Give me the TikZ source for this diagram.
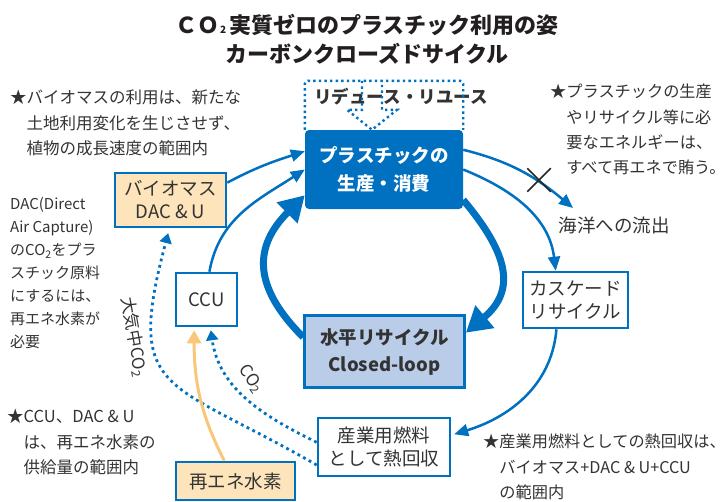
\documentclass[tikz,border=0pt]{standalone}
\usepackage{fontspec}
\setmainfont{Noto Sans CJK JP}
\usepackage{xcolor}
\usetikzlibrary{arrows.meta,shapes.misc}

\definecolor{mainblue}{HTML}{0070C0}
\definecolor{paleblue}{HTML}{B9CDE9}
\definecolor{paleorange}{HTML}{FDE4BA}
\definecolor{hydroline}{HTML}{F9C77A}
\definecolor{inktext}{HTML}{333333}
\definecolor{titleink}{HTML}{231F20}

\tikzset{
    plainbox/.style={
        draw=mainblue,
        line width=2.6pt,
        fill=white,
        align=center,
        inner sep=0pt,
        text=inktext,
        font=\fontsize{18.5}{23}\selectfont
    },
    orangebox/.style={
        plainbox,
        fill=paleorange
    },
    prodbox/.style={
        fill=mainblue,
        rounded corners=4pt,
        align=center,
        inner sep=0pt,
        text=white,
        minimum width=158pt,
        minimum height=79pt,
        font=\bfseries\fontsize{18.5}{28}\selectfont
    },
    loopbox/.style={
        plainbox,
        fill=paleblue,
        minimum width=160pt,
        minimum height=72pt,
        font=\bfseries\fontsize{18.5}{27}\selectfont
    },
    notetext/.style={
        align=left,
        inner sep=0pt,
        text=inktext,
        font=\fontsize{16.5}{25.5}\selectfont
    },
    flow/.style={
        -{Triangle[length=14pt,width=12pt]},
        draw=mainblue,
        line width=2.5pt
    },
    cycle/.style={
        -{Triangle[length=25pt,width=28pt]},
        draw=mainblue,
        line width=7pt
    },
    dotline/.style={
        draw=mainblue,
        line width=2.4pt,
        dash pattern=on 2.4pt off 3.2pt
    },
    dotflow/.style={
        -{Triangle[length=10pt,width=12pt]},
        draw=mainblue,
        line width=2.8pt,
        dash pattern=on 2.8pt off 3.6pt
    },
    hydroflow/.style={
        -{Triangle[length=13pt,width=14pt]},
        draw=hydroline,
        line width=3pt
    }
}

\begin{document}
\begin{tikzpicture}[x=1pt, y=1pt]
    \useasboundingbox (0,0) rectangle (728,-501);

    \node[align=center, text=titleink, font=\bfseries\fontsize{22}{29}\selectfont] (title) at (367,-39) {%
        ＣＯ\hspace{1pt}{\fontsize{10}{10}\selectfont 2}\hspace{3pt}実質ゼロのプラスチック利用の姿\\
        カーボンクローズドサイクル%
    };

    % main loop
    \node[prodbox] (prod) at (384,-169.5) {プラスチックの\\生産・消費};
    \node[loopbox] (horiz) at (384.5,-351.5) {水平リサイクル\\Closed-loop};

    \node[orangebox, minimum width=111pt, minimum height=54pt] (bio) at (170.5,-200) {バイオマス\\DAC \& U};
    \node[plainbox, minimum width=61pt, minimum height=53pt] (ccu) at (206.5,-299.5) {CCU};
    \node[orangebox, minimum width=119pt, minimum height=38pt] (hydro) at (235.5,-481) {再エネ水素};
    \node[plainbox, minimum width=132pt, minimum height=58pt] (fuel) at (384,-447) {産業用燃料\\として熱回収};
    \node[plainbox, minimum width=105pt, minimum height=56pt] (cascade) at (575.5,-300) {カスケード\\リサイクル};

    % reduce / reuse
    \node[text=inktext, font=\bfseries\fontsize{17.5}{20}\selectfont] (reduce) at (401,-97) {リデュース・リユース};
    \draw[dotline, rounded corners=3pt] (prod.north west) -- ++(0,49) -| (prod.north east);
    \coordinate (rr) at ([xshift=-12pt]prod.north);
    \draw[dotline] ([shift={(-10,49)}]rr) -- ++(0,-29) -- ++(-15,0) -- (rr) -- ++(25,20) -- ++(-15,0) -- ++(0,29);

    \draw[cycle] (horiz.170) to[out=135, in=225, looseness=1.3] (prod.198);
    \draw[cycle] (prod.-21) to[out=-50, in=40, looseness=1.3] (horiz.13);

    \draw[flow] (bio.17) to[out=28, in=198] (prod.167);
    \draw[flow] (ccu.84) to[out=80, in=213] (prod.west);

    \node[text=inktext, font=\fontsize{18.5}{22}\selectfont] (ocean) at (614,-225) {海洋への流出};
    \coordinate (oceantip) at (573,-208);
    \draw[flow] (prod.14) to[out=-14, in=140] (oceantip);
    \node[cross out, draw=black!85, line width=1.5pt, minimum size=22pt, inner sep=0pt] (ban) at (539,-180) {};

    \draw[flow] (prod.east) to[out=-22, in=97] (cascade.124);
    \draw[flow, shorten >=3pt] (cascade.-123) to[out=-95, in=17] (fuel.10);

    \draw[dotflow, shorten >=3pt] (fuel.176) to[out=154, in=-82] (ccu.-82);
    \draw[dotflow, shorten >=5pt] (fuel.195) to[out=150, in=-105, looseness=1.6] (bio.-92);
    \draw[hydroflow, shorten >=3pt] (hydro.119) to[out=117, in=-90] (ccu.-114);

    \node[text=inktext, rotate=-55, font=\fontsize{17}{20}\selectfont] (co2a) at (251,-379) {CO\textsubscript{2}};
    \node[text=inktext, rotate=-80, font=\fontsize{17}{20}\selectfont] (co2b) at (134,-337) {大気中CO\textsubscript{2}};

    % notes
    \node[notetext, anchor=north west] (biomemo) at (10,-90) {%
        ★バイオマスの利用は、新たな\\
        \phantom{★}土地利用変化を生じさせず、\\
        \phantom{★}植物の成長速度の範囲内%
    };
    \node[notetext, anchor=north west, font=\fontsize{15}{23}\selectfont] (dacmemo) at (10,-197.5) {%
        DAC(Direct\\
        Air Capture)\\
        のCO\textsubscript{2}をプラ\\
        スチック原料\\
        にするには、\\
        再エネ水素が\\
        必要%
    };
    \node[notetext, anchor=north west, font=\fontsize{16.2}{25.3}\selectfont] (energymemo) at (550,-84) {%
        ★プラスチックの生産\\
        \phantom{★}やリサイクル等に必\\
        \phantom{★}要なエネルギーは、\\
        \phantom{★}すべて再エネで賄う。%
    };
    \node[notetext, anchor=north west] (ccumemo) at (7,-409) {%
        ★CCU、DAC \& U\\
        \phantom{★}は、再エネ水素の\\
        \phantom{★}供給量の範囲内%
    };
    \node[notetext, anchor=north west, font=\fontsize{16.2}{25.5}\selectfont] (fuelmemo) at (483,-434) {%
        ★産業用燃料としての熱回収は、\\
        \phantom{★}バイオマス+DAC \& U+CCU\\
        \phantom{★}の範囲内%
    };
\end{tikzpicture}
\end{document}
